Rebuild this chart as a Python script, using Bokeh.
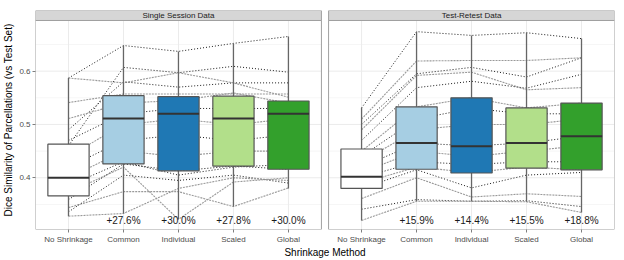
from bokeh.plotting import figure
from bokeh.models import Range1d, FixedTicker
from bokeh.embed import file_html
from bokeh.resources import INLINE
from bokeh.core.properties import value

methods = ["No Shrinkage", "Common", "Individual", "Scaled", "Global"]
panels = ["Single Session Data", "Test-Retest Data"]
fills = ["#FFFFFF", "#A6CEE3", "#1F78B4", "#B2DF8A", "#33A02C"]

# Single Session box stats
ss_lo = [0.328, 0.333, 0.322, 0.346, 0.380]
ss_q1 = [0.366, 0.426, 0.413, 0.422, 0.416]
ss_med = [0.400, 0.511, 0.520, 0.511, 0.520]
ss_q3 = [0.463, 0.554, 0.552, 0.553, 0.544]
ss_hi = [0.587, 0.648, 0.637, 0.652, 0.665]
ss_pct = ["", "+27.6%", "+30.0%", "+27.8%", "+30.0%"]

# Test-Retest box stats
tr_lo = [0.320, 0.356, 0.356, 0.355, 0.335]
tr_q1 = [0.380, 0.416, 0.409, 0.418, 0.415]
tr_med = [0.402, 0.465, 0.459, 0.465, 0.478]
tr_q3 = [0.454, 0.533, 0.550, 0.531, 0.540]
tr_hi = [0.531, 0.674, 0.667, 0.672, 0.661]
tr_pct = ["", "+15.9%", "+14.4%", "+15.5%", "+18.8%"]

# per-subject values (No Shrinkage, Common, Individual, Scaled, Global)
ss_subjects = [
    [0.587, 0.648, 0.637, 0.652, 0.665],
    [0.587, 0.578, 0.597, 0.578, 0.551],
    [0.460, 0.607, 0.597, 0.609, 0.598],
    [0.541, 0.557, 0.557, 0.557, 0.557],
    [0.490, 0.580, 0.570, 0.578, 0.578],
    [0.511, 0.540, 0.545, 0.559, 0.540],
    [0.470, 0.520, 0.530, 0.530, 0.530],
    [0.440, 0.500, 0.510, 0.500, 0.510],
    [0.420, 0.470, 0.480, 0.470, 0.480],
    [0.400, 0.450, 0.440, 0.450, 0.450],
    [0.385, 0.430, 0.405, 0.420, 0.425],
    [0.372, 0.420, 0.322, 0.392, 0.400],
    [0.359, 0.426, 0.413, 0.422, 0.416],
    [0.344, 0.374, 0.374, 0.346, 0.381],
    [0.336, 0.405, 0.395, 0.405, 0.390],
    [0.328, 0.333, 0.380, 0.400, 0.395],
]
tr_subjects = [
    [0.531, 0.674, 0.667, 0.672, 0.661],
    [0.510, 0.619, 0.620, 0.620, 0.625],
    [0.500, 0.595, 0.607, 0.589, 0.625],
    [0.490, 0.592, 0.598, 0.565, 0.569],
    [0.470, 0.569, 0.581, 0.568, 0.594],
    [0.450, 0.533, 0.550, 0.531, 0.540],
    [0.440, 0.510, 0.530, 0.520, 0.520],
    [0.430, 0.490, 0.500, 0.500, 0.510],
    [0.420, 0.465, 0.460, 0.465, 0.478],
    [0.410, 0.450, 0.440, 0.450, 0.460],
    [0.400, 0.430, 0.425, 0.430, 0.430],
    [0.390, 0.420, 0.410, 0.420, 0.415],
    [0.380, 0.415, 0.381, 0.405, 0.410],
    [0.361, 0.400, 0.364, 0.370, 0.365],
    [0.341, 0.359, 0.356, 0.357, 0.346],
    [0.320, 0.356, 0.356, 0.355, 0.335],
]

y_major = [0.4, 0.5, 0.6]
y_minor = [0.35, 0.45, 0.55, 0.65]

FONT = "Liberation Sans"
YLO, YHI = 0.303, 0.695
STRIP = 0.0187
OFF = 5.33
HALF = 0.375

p = figure(width=624, height=260, output_backend="svg", toolbar_location=None,
           x_range=Range1d(0.4, 5.6 + OFF), y_range=Range1d(YLO, YHI + STRIP))
p.min_border_left = 0
p.min_border_right = 10
p.min_border_top = 10
p.min_border_bottom = 0
p.outline_line_color = None
p.xgrid.visible = False
p.ygrid.visible = False
p.background_fill_color = "white"

panel_data = [
    (0.0, ss_lo, ss_q1, ss_med, ss_q3, ss_hi, ss_pct, ss_subjects),
    (OFF, tr_lo, tr_q1, tr_med, tr_q3, tr_hi, tr_pct, tr_subjects),
]

all_ticks = []
overrides = {}
for pi, (off, lo, q1, med, q3, hi, pct, subs) in enumerate(panel_data):
    xs = [i + 1 + off for i in range(len(methods))]
    for x, m in zip(xs, methods):
        all_ticks.append(x)
        overrides[x] = m
    left, right = 0.4 + off, 5.6 + off
    # grid
    p.segment(x0=[left] * len(y_minor), x1=[right] * len(y_minor), y0=y_minor, y1=y_minor,
              line_color="#F4F4F4", line_width=0.8)
    p.segment(x0=[left] * len(y_major), x1=[right] * len(y_major), y0=y_major, y1=y_major,
              line_color="#EBEBEB", line_width=1)
    p.segment(x0=xs, x1=xs, y0=[YLO] * len(xs), y1=[YHI] * len(xs),
              line_color="#EBEBEB", line_width=1)
    # subject lines
    for si, s in enumerate(subs):
        if si % 2 == 0:
            p.line(xs, s, line_color="#1A1A1A", line_width=1, line_dash="1 2")
        else:
            p.line(xs, s, line_color="#999999", line_width=1.1, line_dash="2 1")
    # whiskers
    p.segment(x0=xs, x1=xs, y0=lo, y1=q1, line_color="#666666", line_width=1.3)
    p.segment(x0=xs, x1=xs, y0=q3, y1=hi, line_color="#666666", line_width=1.3)
    # boxes
    p.quad(left=[x - HALF for x in xs], right=[x + HALF for x in xs], bottom=q1, top=q3,
           fill_color=fills, line_color="#555555", line_width=1.2)
    p.segment(x0=[x - HALF for x in xs], x1=[x + HALF for x in xs], y0=med, y1=med,
              line_color="#333333", line_width=2)
    # percent labels
    p.text(x=xs[1:], y=[0.319] * 4, text=pct[1:], text_font=value(FONT),
           text_font_size="10px", text_color="#1A1A1A", text_align="center",
           text_baseline="middle")
    # panel border
    p.quad(left=[left], right=[right], bottom=[YLO], top=[YHI], fill_color=None,
           line_color="#A0A0A0", line_width=1)
    # strip
    p.quad(left=[left], right=[right], bottom=[YHI], top=[YHI + STRIP],
           fill_color="#D6D6D6", line_color="#A0A0A0", line_width=1)
    p.text(x=[3 + off], y=[YHI + STRIP / 2], text=[panels[pi]], text_font=value(FONT),
           text_font_size="8px", text_color="#1A1A1A", text_align="center",
           text_baseline="middle")

p.xaxis.ticker = FixedTicker(ticks=all_ticks, minor_ticks=[])
p.xaxis.major_label_overrides = overrides
p.yaxis.ticker = FixedTicker(ticks=y_major, minor_ticks=[])
p.yaxis.major_label_overrides = {0.4: "0.4", 0.5: "0.5", 0.6: "0.6"}

p.xaxis.axis_label = "Shrinkage Method"
p.yaxis.axis_label = "Dice Similarity of Parcellations (vs Test Set)"
for ax in (p.xaxis, p.yaxis):
    ax.axis_line_color = None
    ax.major_tick_line_color = "#7F7F7F"
    ax.major_tick_out = 3
    ax.major_tick_in = 0
    ax.minor_tick_out = 0
    ax.minor_tick_in = 0
    ax.major_label_text_font = FONT
    ax.major_label_text_font_size = "8px"
    ax.major_label_text_color = "#4D4D4D"
    ax.major_label_standoff = 2
    ax.axis_label_text_font = FONT
    ax.axis_label_text_font_size = "10px"
    ax.axis_label_text_font_style = "normal"
    ax.axis_label_text_color = "#000000"
    ax.axis_label_standoff = 2
p.xaxis.axis_label_standoff = 0

open("out.html", "w").write(file_html(p, INLINE))
